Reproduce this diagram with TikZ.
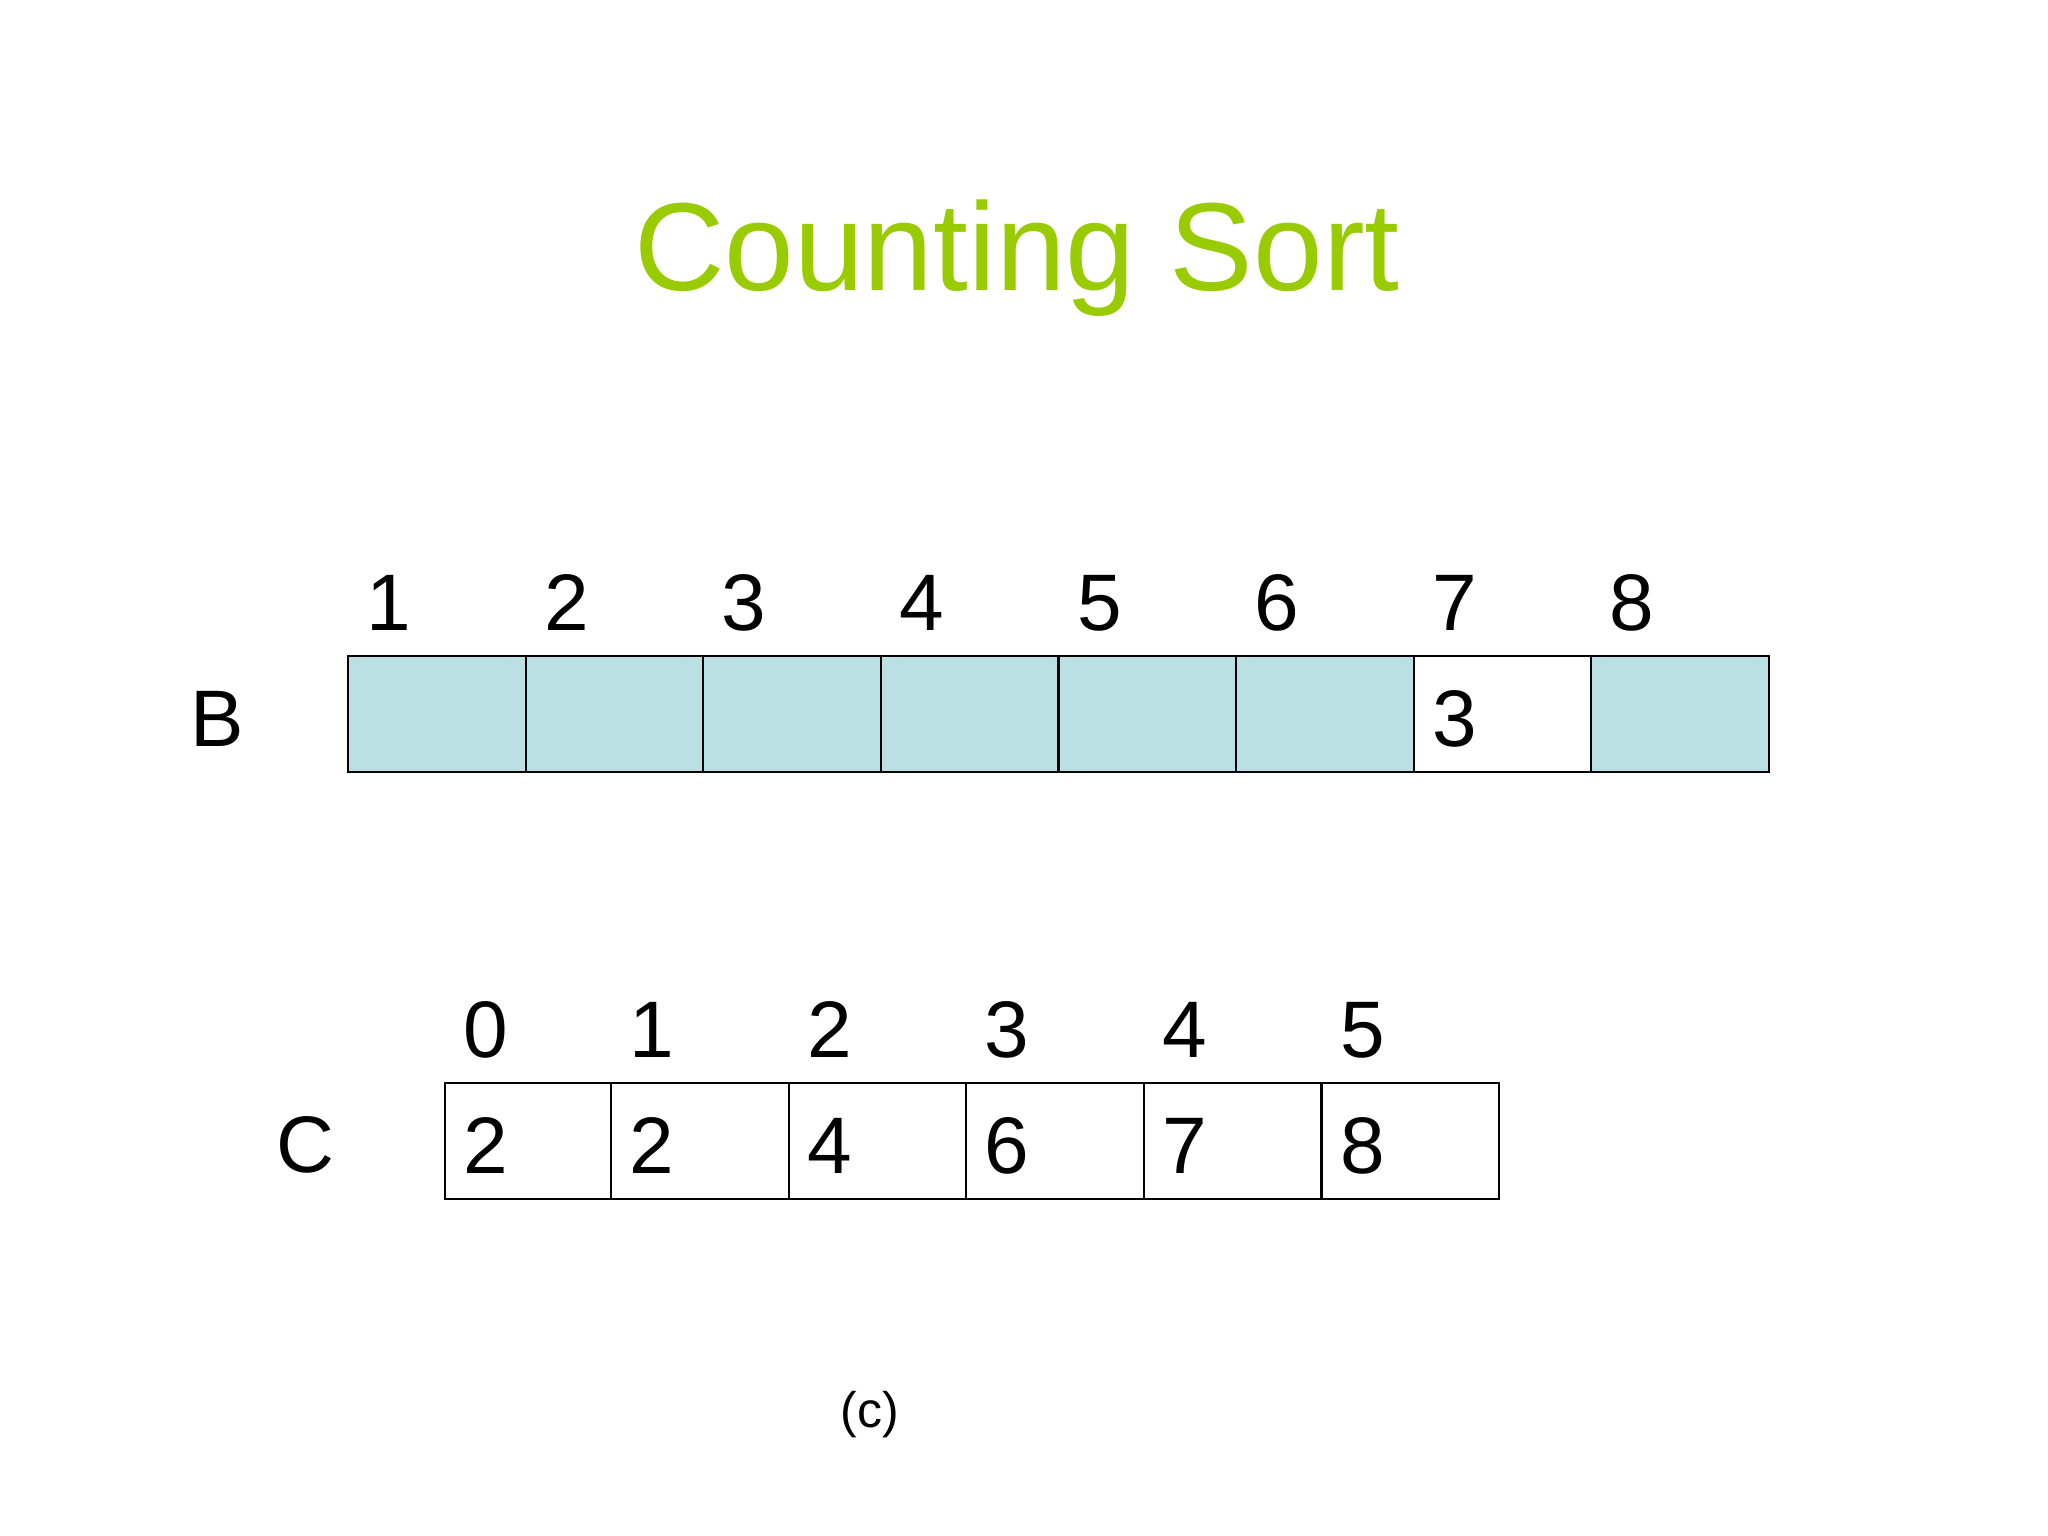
\documentclass[tikz,border=0pt]{standalone}
\usepackage{fontspec}
\setmainfont{Liberation Sans}
\definecolor{titlegreen}{HTML}{99CC00}
\definecolor{cellblue}{HTML}{BBE0E3}
\begin{document}
\begin{tikzpicture}[x=0.01cm,y=-0.01cm,
  cell/.style={draw=black,line width=0.6pt,rectangle,inner sep=0pt,minimum height=1.16cm,anchor=north west},
  bcell/.style={cell,fill=cellblue,minimum width=1.776cm},
  wcell/.style={cell,fill=white,minimum width=1.776cm},
  txt/.style={inner sep=0pt,anchor=base,text=black,font=\fontsize{22.8pt}{26pt}\selectfont},
  smalltxt/.style={inner sep=0pt,anchor=base,text=black,font=\fontsize{14.2pt}{16pt}\selectfont},
  titletxt/.style={inner sep=0pt,anchor=base,text=titlegreen,font=\fontsize{35.6pt}{40pt}\selectfont}]
\useasboundingbox[fill=white] (0,0) rectangle (2048,1536);

\node[titletxt] (title) at (1017,290) {Counting Sort};

% array B
\node[txt] (Blabel) at (217,746) {B};
\foreach \i in {1,2,3,4,5,6,8}
  \node[bcell] (b\i) at ({347+(\i-1)*177.6},655) {};
\node[wcell] (b7) at ({347+6*177.6},655) {};
\foreach \i in {1,...,8}
  \node[txt] (bi\i) at ({347+(\i-1)*177.6+42},630) {\i};
\node[txt] (bv7) at ({347+6*177.6+42},746) {3};

% array C
\node[txt] (Clabel) at (305,1172) {C};
\node[cell,fill=white,minimum width=1.66cm] (c0) at (444,1082) {};
\foreach \i in {1,...,5}
  \node[wcell] (c\i) at ({610+(\i-1)*177.6},1082) {};
\node[txt] (ci0) at (486,1057) {0};
\node[txt] (cv0) at (486,1173) {2};
\foreach \i/\v in {1/2,2/4,3/6,4/7,5/8}{
  \node[txt] (ci\i) at ({610+(\i-1)*177.6+42},1057) {\i};
  \node[txt] (cv\i) at ({610+(\i-1)*177.6+42},1173) {\v};
}

\node[smalltxt] (caption) at (870,1427) {(c)};
\end{tikzpicture}
\end{document}
